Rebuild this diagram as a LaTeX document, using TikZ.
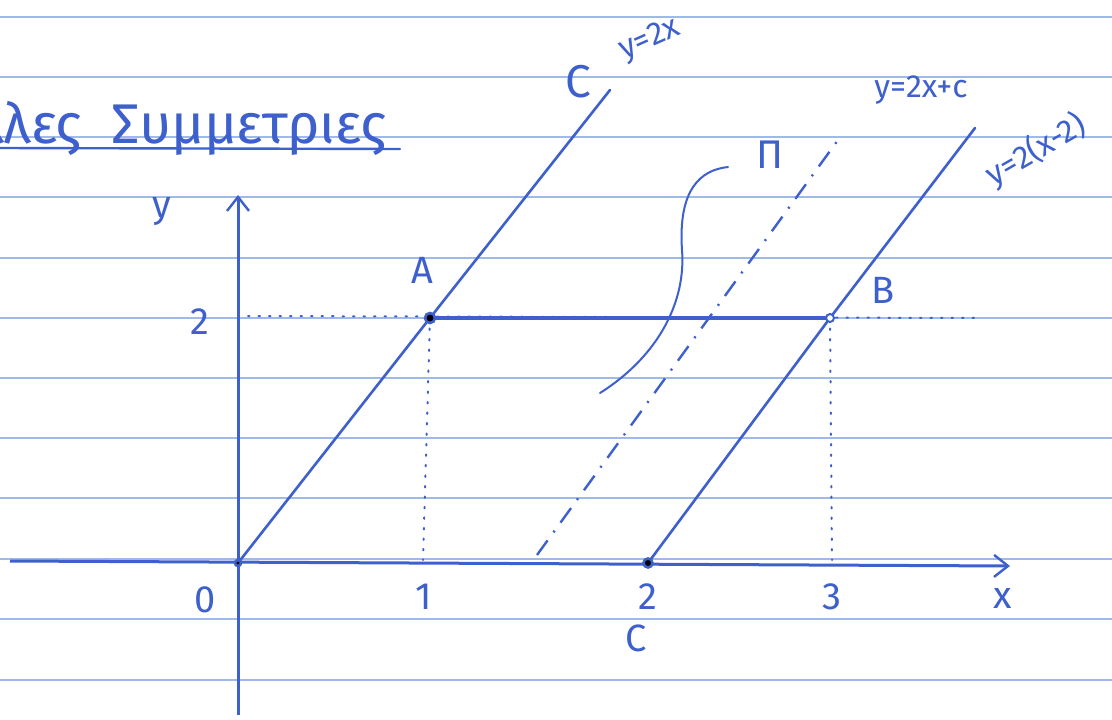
\documentclass[tikz,border=0pt]{standalone}
\usepackage{fontspec}
\setmainfont{Fira Sans}
\usetikzlibrary{arrows.meta}
\definecolor{ink}{RGB}{62,96,205}
\definecolor{rule}{RGB}{160,185,235}
\tikzset{
  ink/.style={draw=ink, line width=2.6pt, line cap=round},
  axis/.style={draw=ink, line width=3pt, -{Straight Barb[length=14pt,width=22pt,line width=2.4pt]}},
  dots/.style={draw=ink, line width=2pt, dash pattern=on 1.5pt off 9pt, line cap=round},
  dashdot/.style={draw=ink, line width=2.4pt, dash pattern=on 18pt off 10pt on 2pt off 10pt},
  lbl/.style={text=ink, font=\fontsize{38}{40}\selectfont, inner sep=0pt},
  small/.style={text=ink, font=\fontsize{32}{34}\selectfont, inner sep=0pt},
  paper/.style={draw=rule, line width=1.3pt}
}
\begin{document}
\begin{tikzpicture}[x=1pt,y=-1pt]
\useasboundingbox (0,0) rectangle (1112,720);
\fill[white] (0,0) rectangle (1112,720);
% ruled paper
\foreach \yy in {17,77,137,197,258,318,378,438,498,559,619,680}
  \draw[paper] (0,\yy) -- (1112,\yy);
% title
\begin{scope}
\clip (0,0) rectangle (1112,720);
\node[lbl, anchor=base west, font=\fontsize{56}{58}\selectfont] (title) at (-24,143) {λλες\ \ Συμμετριες};
\end{scope}
\coordinate (ul1) at (0,148);
\coordinate (ul2) at (400,149);
\draw[ink, line width=2.4pt] (ul1) -- (ul2);
% axes
\coordinate (O) at (238,563);
\coordinate (xs) at (10,561);
\coordinate (xe) at (1010,566);
\coordinate (ys) at (238,715);
\coordinate (ye) at (238,195);
\draw[axis] (xs) -- (xe);
\draw[axis] (ys) -- (ye);
% key points
\coordinate (A) at (430,318);
\coordinate (B) at (830,318);
\coordinate (C) at (648,563);
\coordinate (A0) at (423,560);
\coordinate (B0) at (832,560);
\coordinate (h1) at (248,316);
\coordinate (h2) at (980,318);
% lines
\coordinate (L1e) at (610,90);
\coordinate (L2e) at (975,128);
\coordinate (P1) at (537,555);
\coordinate (P2) at (838,140);
\draw[ink] (O) -- (A) -- (L1e);
\draw[ink] (C) -- (B) -- (L2e);
\draw[dashdot] (P1) -- (P2);
\draw[dots] (h1) -- (h2);
\draw[dots] (A) -- (A0);
\draw[dots] (B) -- (B0);
\draw[ink, line width=3.4pt] (A) -- (B);
\fill[ink] (A) circle (5pt);
\fill[ink] (C) circle (4.5pt);
\fill[ink] (O) circle (3pt);
\draw[ink, line width=2pt, fill=white] (B) circle (4pt);
% pi curve
\coordinate (c1) at (600,393);
\coordinate (c2) at (682,250);
\coordinate (c3) at (728,167);
\draw[ink, line width=2pt] (c1) .. controls (660,355) and (686,300) .. (c2) .. controls (678,190) and (700,170) .. (c3);
% labels
\node[lbl] (ly) at (162,212) {y};
\node[lbl] (l2y) at (200,322) {2};
\node[lbl] (l0) at (205,600) {0};
\node[lbl] (l1) at (424,597) {1};
\node[lbl] (l2) at (648,597) {2};
\node[lbl] (l3) at (832,597) {3};
\node[lbl] (lx) at (1003,598) {x};
\node[lbl] (lC) at (636,638) {C};
\node[lbl] (lA) at (422,270) {A};
\node[lbl] (lB) at (883,290) {B};
\node[lbl, font=\fontsize{40}{42}\selectfont] (lPi) at (770,155) {Π};
\node[lbl, font=\fontsize{46}{48}\selectfont] (lC2) at (578,82) {C};
\node[small, rotate=24] (eq1) at (650,40) {y=2x};
\node[small] (eq2) at (921,90) {y=2x+c};
\node[small, rotate=30] (eq3) at (1036,150) {y=2(x-2)};
\end{tikzpicture}
\end{document}
